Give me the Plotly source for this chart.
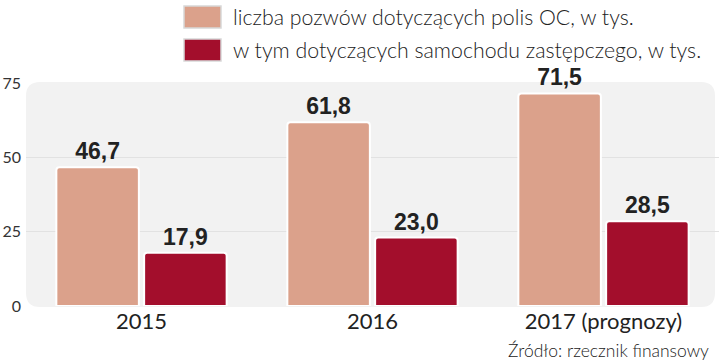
import plotly.graph_objects as go

categories = ["2015", "2016", "2017 (prognozy)"]
pozwy_oc = [46.7, 61.8, 71.5]
samochod_zast = [17.9, 23.0, 28.5]
series_names = ["liczba pozwów dotyczących polis OC, w tys.",
                "w tym dotyczących samochodu zastępczego, w tys."]
y_ticks = [0, 25, 50, 75]
source_text = "Źródło: rzecznik finansowy"

colors = ["#dba18b", "#a30e2c"]

W, H = 720, 363
L, R, T, B = 26, 1, 83, 57
pw, ph = W - L - R, H - T - B

def px_x(p):
    return (p - L) / pw

def px_y(p):
    return (H - B - p) / ph

fig = go.Figure()
for name, vals, col in zip(series_names, [pozwy_oc, samochod_zast], colors):
    fig.add_trace(go.Bar(
        x=categories, y=vals, name=name,
        marker=dict(color=col, line=dict(color="white", width=2), cornerradius=3),
        texttemplate="%{y:.1f}", textposition="outside",
        textfont=dict(family="Liberation Sans", size=23, color="#222222", weight="bold"),
        cliponaxis=False, showlegend=False,
    ))

# rounded background panel
x0, x1 = px_x(26), px_x(715)
y0, y1 = px_y(307), px_y(82)
rx, ry = 14 / pw, 14 / ph
path = (f"M {x0+rx},{y1} L {x1-rx},{y1} Q {x1},{y1} {x1},{y1-ry} "
        f"L {x1},{y0+ry} Q {x1},{y0} {x1-rx},{y0} L {x0+rx},{y0} "
        f"Q {x0},{y0} {x0},{y0+ry} L {x0},{y1-ry} Q {x0},{y1} {x0+rx},{y1} Z")
shapes = [dict(type="path", xref="paper", yref="paper", path=path,
               fillcolor="#f2f2f2", line=dict(width=0), layer="below")]

annotations = []
# legend swatches and labels
for i, (name, col) in enumerate(zip(series_names, colors)):
    cy = 17 + 33 * i
    shapes.append(dict(type="rect", xref="paper", yref="paper",
                       x0=px_x(184), x1=px_x(221), y0=px_y(cy + 11), y1=px_y(cy - 11),
                       fillcolor=col, line=dict(color="#d8d8d8", width=1.5)))
    annotations.append(dict(text=name, xref="paper", yref="paper",
                            x=px_x(231), y=px_y(cy), xanchor="left", yanchor="middle",
                            showarrow=False,
                            font=dict(family="Lato", size=21.3, color="#222222", weight=300)))

annotations.append(dict(text=source_text, xref="paper", yref="paper",
                        x=px_x(711), y=px_y(350), xanchor="right", yanchor="middle",
                        showarrow=False,
                        font=dict(family="Lato", size=17.5, color="#222222", weight=300)))

fig.update_layout(
    width=W, height=H,
    margin=dict(l=L, r=R, t=T, b=B),
    paper_bgcolor="white", plot_bgcolor="rgba(0,0,0,0)",
    barmode="group", bargap=0.24, bargroupgap=0.06,
    separators=", ",
    shapes=shapes, annotations=annotations,
    xaxis=dict(showgrid=False, zeroline=False, showline=False, ticks="",
               tickfont=dict(family="Lato", size=22, color="#222222")),
    yaxis=dict(range=[0, 75], tickvals=y_ticks, showgrid=True, gridcolor="#e2e2e2",
               gridwidth=1, zeroline=False, showline=False, ticks="",
               tickfont=dict(family="Lato", size=16, color="#333333"),
               ticklabelstandoff=4),
)

fig.write_html("out.html", config={"displayModeBar": False},
               post_script="document.body.style.margin='0';document.body.style.padding='0';")
